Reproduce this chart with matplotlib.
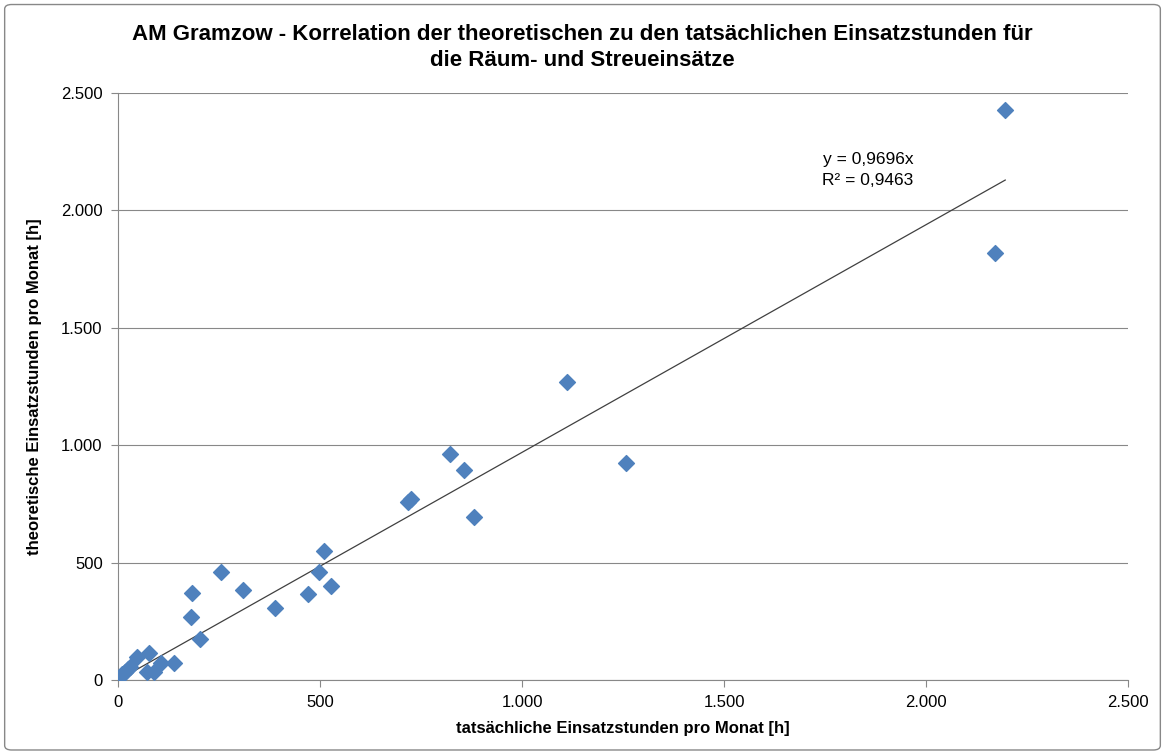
import matplotlib.pyplot as plt
from matplotlib.ticker import FuncFormatter
from matplotlib.patches import FancyBboxPatch
import numpy as np

plt.rcParams['font.family'] = ['Liberation Sans', 'DejaVu Sans']

# tatsächliche (x) und theoretische (y) Einsatzstunden pro Monat
actual = [5, 10, 17, 24, 30, 48, 71, 77, 90, 106, 139, 180, 182, 203, 254, 310,
          389, 471, 497, 511, 526, 718, 726, 822, 856, 881, 1111, 1257, 2171, 2196]
theoretical = [14, 25, 35, 45, 57, 97, 35, 114, 33, 74, 74, 270, 369, 175, 459, 383,
               308, 365, 461, 551, 402, 760, 770, 962, 894, 694, 1269, 924, 1819, 2428]
slope = 0.9696
r2 = 0.9463

fig = plt.figure(figsize=(11.65, 7.53), dpi=100)
border = FancyBboxPatch((0.004, 0.004), 0.992, 0.99, boxstyle="round,pad=0,rounding_size=0.006",
                        transform=fig.transFigure, fill=False, edgecolor='#888888', linewidth=1)
fig.patches.append(border)

ax = fig.add_axes([0.1013, 0.0969, 0.8670, 0.7796])
ax.scatter(actual, theoretical, marker='D', s=65, color='#4F81BD', edgecolors='#4F81BD', zorder=3)

# lineare Trendlinie durch den Ursprung
xs = np.array([0, max(actual)])
ax.plot(xs, slope * xs, color='#404040', linewidth=0.9, zorder=2)

ax.set_xlim(0, 2500)
ax.set_ylim(0, 2500)
ax.set_xticks(range(0, 2501, 500))
ax.set_yticks(range(0, 2501, 500))
fmt = FuncFormatter(lambda v, p: f"{int(v):,}".replace(",", "."))
ax.xaxis.set_major_formatter(fmt)
ax.yaxis.set_major_formatter(fmt)
ax.tick_params(labelsize=12, length=5, color='#888888', pad=6)
ax.grid(axis='y', color='#888888', linewidth=0.8)
ax.set_axisbelow(True)
for s in ['top', 'right']:
    ax.spines[s].set_visible(False)
for s in ['left', 'bottom']:
    ax.spines[s].set_color('#888888')

ax.set_xlabel('tatsächliche Einsatzstunden pro Monat [h]', fontsize=12, fontweight='bold', labelpad=8)
ax.set_ylabel('theoretische Einsatzstunden pro Monat [h]', fontsize=12, fontweight='bold', labelpad=14)

fig.text(0.5, 0.937, 'AM Gramzow - Korrelation der theoretischen zu den tatsächlichen Einsatzstunden für\n'
         'die Räum- und Streueinsätze', ha='center', va='center', fontsize=16, fontweight='bold',
         linespacing=1.3)

ax.text(1856, 2174, f"y = {slope:.4f}x\nR² = {r2:.4f}".replace('.', ','), ha='center', va='center',
        fontsize=12.5, linespacing=1.5)

fig.savefig('out.png', dpi=100)
